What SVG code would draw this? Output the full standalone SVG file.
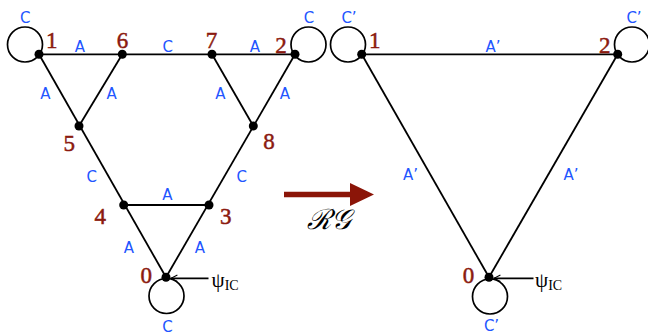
<svg xmlns="http://www.w3.org/2000/svg" width="648" height="335" viewBox="0 0 648 335">
<defs>
<style>
.edge{stroke:#000;stroke-width:1.8;fill:none}
.loop{stroke:#000;stroke-width:1.7;fill:none}
.dot{fill:#000}
.nl{font-family:"Liberation Serif","DejaVu Serif",serif;font-size:23px;fill:#8b1a0f;stroke:#8b1a0f;stroke-width:0.5;text-anchor:middle}
.el{font-family:"DejaVu Sans","Liberation Sans",sans-serif;font-size:15px;fill:#2255ff;text-anchor:middle}
.psi{font-family:"Liberation Serif","DejaVu Serif",serif;font-size:21px;fill:#000}
.sub{font-size:14px}
</style>
<marker id="ah" viewBox="0 0 10 10" refX="9" refY="5" markerWidth="8" markerHeight="8" markerUnits="userSpaceOnUse" orient="auto">
<path d="M1,1 L9,5 L1,9" fill="none" stroke="#000" stroke-width="1.4"/>
</marker>
</defs>
<rect width="648" height="335" fill="#fff"/>

<g id="connectors">
<!-- left graph edges -->
<line class="edge" x1="39" y1="54.3" x2="295" y2="54.3"/>
<line class="edge" x1="39" y1="54.3" x2="166" y2="277.3"/>
<line class="edge" x1="295" y1="54.3" x2="166" y2="277.3"/>
<line class="edge" x1="122.3" y1="54.3" x2="79" y2="126"/>
<line class="edge" x1="212" y1="54.3" x2="253.3" y2="126"/>
<line class="edge" x1="123.7" y1="205" x2="209" y2="205"/>
<circle class="loop" cx="25" cy="44.5" r="17.5"/>
<circle class="loop" cx="308.5" cy="44.5" r="17.5"/>
<circle class="loop" cx="166.5" cy="296" r="17.5"/>
<line class="edge" x1="208.5" y1="278.3" x2="171" y2="278.3" marker-end="url(#ah)"/>
<!-- right graph edges -->
<line class="edge" x1="361.7" y1="54.3" x2="617.7" y2="54.3"/>
<line class="edge" x1="361.7" y1="54.3" x2="489" y2="277.3"/>
<line class="edge" x1="617.7" y1="54.3" x2="489" y2="277.3"/>
<circle class="loop" cx="348" cy="44.5" r="17.5"/>
<circle class="loop" cx="632" cy="44.5" r="17.5"/>
<circle class="loop" cx="490" cy="296.5" r="17.5"/>
<line class="edge" x1="533.5" y1="278.3" x2="494" y2="278.3" marker-end="url(#ah)"/>

<!-- left labels -->
<text class="el" x="25.3" y="22.7">C</text>
<text class="el" x="79.8" y="52.3">A</text>
<text class="el" x="167.8" y="52.3">C</text>
<text class="el" x="255" y="52.3">A</text>
<text class="el" x="309" y="22.7">C</text>
<text class="el" x="45.5" y="99.3">A</text>
<text class="el" x="111.7" y="99.3">A</text>
<text class="el" x="220.5" y="99.3">A</text>
<text class="el" x="285" y="99.3">A</text>
<text class="el" x="91.7" y="181.7">C</text>
<text class="el" x="241.7" y="181.7">C</text>
<text class="el" x="167.5" y="200">A</text>
<text class="el" x="128.8" y="252.7">A</text>
<text class="el" x="200" y="252.7">A</text>
<text class="el" x="167.5" y="331.5">C</text>
<!-- right labels -->
<text class="el" x="349" y="22.7">C’</text>
<text class="el" x="493" y="52.3">A’</text>
<text class="el" x="634" y="22.7">C’</text>
<text class="el" x="410.5" y="180">A’</text>
<text class="el" x="571" y="180">A’</text>
<text class="el" x="491.5" y="331">C’</text>

<text class="psi" x="211.5" y="287">ψ<tspan class="sub" dy="3">IC</tspan></text>
<text class="psi" x="535" y="287">ψ<tspan class="sub" dy="3">IC</tspan></text>
</g>

<g id="rg-arrow">
<path d="M284,191.7 L350,191.7 L350,183 L374,194.5 L350,206 L350,197.3 L284,197.3 Z" fill="#8b1508"/>
<text x="329" y="229" font-family="DejaVu Serif,Liberation Serif,serif" font-style="italic" font-size="28" text-anchor="middle" fill="#000">ℛ𝒢</text>
</g>

<g id="node-1"><circle class="dot" cx="39" cy="54.3" r="4.5"/><text class="nl" x="51.7" y="47.5">1</text></g>
<g id="node-6"><circle class="dot" cx="122.3" cy="54.3" r="4.5"/><text class="nl" x="122.5" y="47.5">6</text></g>
<g id="node-7"><circle class="dot" cx="212" cy="54.3" r="4.5"/><text class="nl" x="211.5" y="48">7</text></g>
<g id="node-2"><circle class="dot" cx="295" cy="54.3" r="4.5"/><text class="nl" x="281" y="53">2</text></g>
<g id="node-5"><circle class="dot" cx="79" cy="126" r="4.5"/><text class="nl" x="69.3" y="150.5">5</text></g>
<g id="node-8"><circle class="dot" cx="253.3" cy="126" r="4.5"/><text class="nl" x="269" y="148.5">8</text></g>
<g id="node-4"><circle class="dot" cx="123.7" cy="205" r="4.5"/><text class="nl" x="100.3" y="223.5">4</text></g>
<g id="node-3"><circle class="dot" cx="209" cy="205" r="4.5"/><text class="nl" x="225.7" y="223.5">3</text></g>
<g id="node-0"><circle class="dot" cx="166" cy="277.3" r="4.5"/><text class="nl" x="146.3" y="282.5">0</text></g>

<g id="node-r1"><circle class="dot" cx="361.7" cy="54.3" r="4.5"/><text class="nl" x="374.7" y="47.5">1</text></g>
<g id="node-r2"><circle class="dot" cx="617.7" cy="54.3" r="4.5"/><text class="nl" x="604.7" y="53">2</text></g>
<g id="node-r0"><circle class="dot" cx="489" cy="277.3" r="4.5"/><text class="nl" x="468.5" y="282.5">0</text></g>
</svg>
